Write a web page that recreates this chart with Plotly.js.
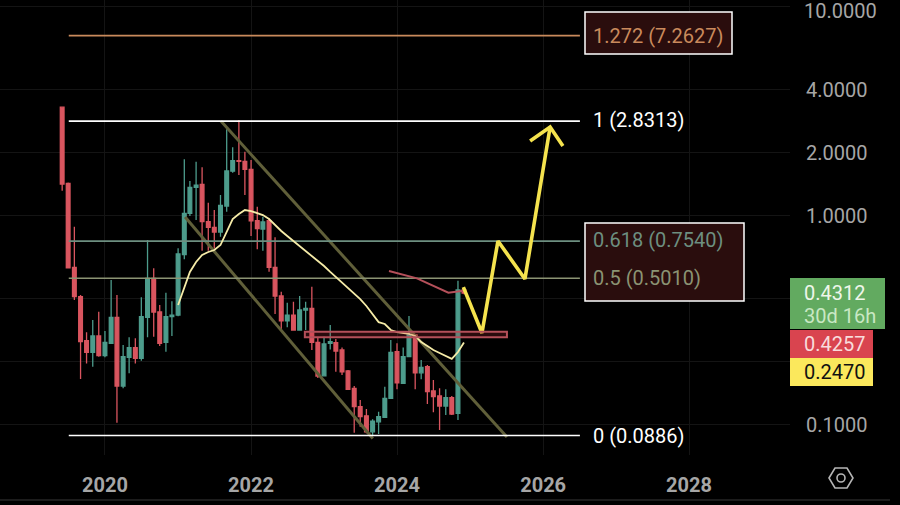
<!DOCTYPE html>
<html><head><meta charset="utf-8">
<script src="https://cdn.plot.ly/plotly-3.0.1.min.js"></script>
<style>html,body{margin:0;padding:0;background:#000;overflow:hidden}#c{width:900px;height:505px}</style>
</head><body><div id="c"></div>
<script>
const months=["2019-06","2019-07","2019-08","2019-09","2019-10","2019-11","2019-12",
"2020-01","2020-02","2020-03","2020-04","2020-05","2020-06","2020-07","2020-08","2020-09","2020-10","2020-11","2020-12",
"2021-01","2021-02","2021-03","2021-04","2021-05","2021-06","2021-07","2021-08","2021-09","2021-10","2021-11","2021-12",
"2022-01","2022-02","2022-03","2022-04","2022-05","2022-06","2022-07","2022-08","2022-09","2022-10","2022-11","2022-12",
"2023-01","2023-02","2023-03","2023-04","2023-05","2023-06","2023-07","2023-08","2023-09","2023-10","2023-11","2023-12",
"2024-01","2024-02","2024-03","2024-04","2024-05","2024-06","2024-07","2024-08","2024-09","2024-10","2024-11","2024-12"];
const open=[3.30,1.426,.565,.409,.2517,.2216,.2652,.2134,.2446,.3257,.1528,.2098,.2329,.2075,.3257,.50,.3453,.2473,.328,.334,.65,1.024,1.364,1.41,.934,.878,.834,1.11,1.63,1.829,1.817,1.662,.944,.861,.944,.565,.412,.3137,.334,.2833,.3531,.3595,.2473,.171,.2446,.2461,.2273,.1805,.149,.1217,.110,.0923,.103,.1082,.1334,.223,.1574,.2112,.268,.1768,.189,.1447,.1369,.1226,.1346,.113,.44];
const high=[3.30,1.44,.884,.416,.2762,.3162,.3465,.2802,.4914,.416,.24,.2613,.2587,.406,.7636,.5587,.3729,.4273,.3887,.6964,1.856,1.463,1.808,1.70,1.151,1.062,1.253,2.583,2.12,2.864,2.019,1.843,1.102,.987,.969,.786,.432,.3825,.3868,.412,.3868,.4565,.2592,.2632,.2992,.2564,.2339,.1823,.1528,.131,.1186,.1059,.1151,.1517,.2537,.2446,.2339,.3305,.2711,.2035,.1927,.1633,.149,.1473,.137,.4876,.45];
const low=[1.313,.5625,.394,.165,.196,.189,.2112,.2098,.2428,.102,.1491,.1757,.196,.2019,.2613,.2632,.2375,.223,.2652,.33,.617,.994,.9517,.678,.678,.696,.792,1.042,1.60,1.562,1.253,.798,.689,.678,.538,.338,.2813,.2917,.2813,.2833,.2833,.2273,.1668,.171,.2288,.1788,.1725,.1463,.0913,.0976,.0907,.089,.09,.1082,.1334,.1473,.1563,.2112,.1473,.1645,.1254,.1144,.0941,.111,.111,.1051,.42];
const close=[1.415,.5625,.409,.249,.2216,.2652,.2134,.2473,.3257,.1528,.2112,.2329,.2075,.328,.50,.3453,.2446,.328,.334,.6545,1.024,1.364,1.399,.934,.878,.834,1.118,1.633,1.829,1.817,1.662,.944,.865,.931,.565,.412,.3137,.334,.2833,.3531,.3595,.2473,.1706,.2428,.249,.2248,.1788,.1473,.1217,.109,.0923,.1039,.109,.1334,.2216,.1584,.2112,.268,.1768,.1877,.1435,.1359,.1226,.1346,.1122,.44,.4257];

const maMonths=months.slice(19);
const maValues=[.373,.4497,.5366,.599,.647,.669,.684,.7224,.843,.962,1.016,1.062,1.05,1.028,1.005,.962,.900,.843,.798,.755,.715,.676,.640,.606,.573,.537,.5076,.4806,.4497,.421,.398,.369,.338,.309,.3026,.2833,.277,.274,.2711,.2652,.2481,.2375,.2273,.2198,.2128,.206,.2223,.2470];

const fibLabels=["1.272 (7.2627)","1 (2.8313)","0.618 (0.7540)","0.5 (0.5010)","0 (0.0886)"];
const fibValues=[7.2627,2.8313,0.7540,0.5010,0.0886];
const fibColors=["#c98a5c","#ffffff","#6d8f80","#8b9373","#ffffff"];
const fibDates=["2019-07-04","2026-07-04"];

const channelUpperDates=["2021-08-03","2025-07-04"], channelUpperValues=[2.83,.0871];
const channelLowerDates=["2021-02-05","2023-09-02"], channelLowerValues=[.9836,.0857];
const redLineDates=["2023-11-22","2024-04-10","2024-09-14","2024-11-28"], redLineValues=[.5427,.5004,.4273,.4367];
const arrowDates=["2024-11-28","2025-03-01","2025-05-20","2025-10-02","2026-02-05"], arrowValues=[.4545,.274,.755,.497,2.65];
const arrowHeadDates=["2025-10-28","2026-02-05","2026-04-10"], arrowHeadValues=[2.27,2.65,2.15];
const zoneDates=["2022-09-27","2025-07-04"], zoneValues=[.2613,.278];

const yTickVals=[10,4,2,1,.4,.2,.1];
const yTickText=["","4.0000","2.0000","1.0000","","","0.1000"];
const xTickVals=["2020-01-01","2022-01-01","2024-01-01","2026-01-01","2028-01-01"];
const xTickText=["2020","2022","2024","2026","2028"];

const W=790,H=455;
const px=v=>v/W, py=v=>1-v/H;
const GREEN="#4d9c8c", RED="#d9555f", FONT="Roboto, sans-serif";

const line=(x,y,color,width)=>({type:"scatter",mode:"lines",x,y,line:{color,width},hoverinfo:"skip",showlegend:false,cliponaxis:false});
const traces=[
 {type:"candlestick",x:months,open,high,low,close,whiskerwidth:0,
  increasing:{line:{color:GREEN,width:1.3},fillcolor:GREEN},
  decreasing:{line:{color:RED,width:1.3},fillcolor:RED},hoverinfo:"skip",showlegend:false},
 line(channelUpperDates,channelUpperValues,"#605f39",3),
 line(channelLowerDates,channelLowerValues,"#605f39",3),
];
fibValues.forEach((v,i)=>traces.push(line(fibDates,[v,v],fibColors[i],i===2||i===3?1.6:1.7)));
traces.push(line(maMonths,maValues,"#f6eca8",1.8));
traces.push(line(redLineDates,redLineValues,"#b5505a",2));
traces.push(line(arrowDates,arrowValues,"#f5e34e",3.6));
traces.push(line(arrowHeadDates,arrowHeadValues,"#f5e34e",3.6));

const rect=(x0,y0,x1,y1,fill,lc,lw)=>({type:"rect",xref:"paper",yref:"paper",x0:px(x0),x1:px(x1),y0:py(y1),y1:py(y0),fillcolor:fill,line:{color:lc||fill,width:lw||0},layer:"above"});
const note=(text,x,y,size,color,anchor,weight)=>({xref:"paper",yref:"paper",x:px(x),y:py(y),text,showarrow:false,xanchor:anchor||"left",yanchor:"middle",font:{family:FONT,size,color,weight:weight||400}});

const hx=841,hy=478,hr=12;
const hexPath=`M${px(hx-hr)},${py(hy)} L${px(hx-hr/2)},${py(hy-10)} L${px(hx+hr/2)},${py(hy-10)} L${px(hx+hr)},${py(hy)} L${px(hx+hr/2)},${py(hy+10)} L${px(hx-hr/2)},${py(hy+10)} Z`;

const shapes=[
 {type:"rect",xref:"x",yref:"y",x0:zoneDates[0],x1:zoneDates[1],y0:zoneValues[0],y1:zoneValues[1],fillcolor:"rgba(190,50,60,0.22)",line:{color:"#b4505a",width:2},layer:"above"},
 rect(585,12,732,54,"#2a0d0d","#ffffff",1.5),
 rect(585,223,744,301,"#2a0d0d","#ffffff",1.5),
 rect(790,278,885,329,"#62aa60"),
 rect(790,330,873,358,"#d9444f"),
 rect(790,358,873,386,"#fbe85c"),
 {type:"path",xref:"paper",yref:"paper",path:hexPath,line:{color:"#b5b5b5",width:1.6},fillcolor:"rgba(0,0,0,0)"},
 {type:"circle",xref:"paper",yref:"paper",x0:px(hx-4),x1:px(hx+4),y0:py(hy+4),y1:py(hy-4),line:{color:"#b5b5b5",width:1.6},fillcolor:"rgba(0,0,0,0)"},
 {type:"line",xref:"paper",yref:"paper",x0:px(0),x1:px(890),y0:py(500),y1:py(500),line:{color:"#1c1c1c",width:2}},
];
const annotations=[
 note(fibLabels[0],591,36,20,fibColors[0]),
 note(fibLabels[1],591,120,20,fibColors[1]),
 note(fibLabels[2],591,240,20,fibColors[2]),
 note(fibLabels[3],591,278,20,fibColors[3]),
 note(fibLabels[4],591,436,20,fibColors[4]),
 note("10.0000",802,11,20,"#a6a6a6"),
 note("0.4312",802,293,20,"#eef6ea"),
 note("30d 16h",802,316,20,"#c9e8c4"),
 note("0.4257",802,344,20,"#f8dcdc"),
 note("0.2470",802,372,20,"#111111"),
];

Plotly.newPlot("c",traces,{
 width:900,height:505,paper_bgcolor:"#000",plot_bgcolor:"#000",
 margin:{l:0,r:110,t:0,b:50,pad:0},boxgap:0.05,showlegend:false,
 xaxis:{type:"date",range:["2018-07-25","2029-05-20"],rangeslider:{visible:false},
  tickmode:"array",tickvals:xTickVals,ticktext:xTickText,showgrid:true,gridcolor:"#141414",gridwidth:1,
  zeroline:false,showline:false,ticks:"outside",ticklen:12,tickcolor:"rgba(0,0,0,0)",
  tickfont:{family:FONT,size:20,color:"#a6a6a6",weight:700}},
 yaxis:{type:"log",side:"right",range:[-1.1459,1.0311],tickmode:"array",tickvals:yTickVals,ticktext:yTickText,
  showgrid:true,gridcolor:"#141414",gridwidth:1,zeroline:false,showline:false,ticks:"outside",ticklen:11,
  tickcolor:"rgba(0,0,0,0)",tickfont:{family:FONT,size:20,color:"#a6a6a6"}},
 shapes,annotations
},{staticPlot:true,displayModeBar:false});
</script></body></html>
